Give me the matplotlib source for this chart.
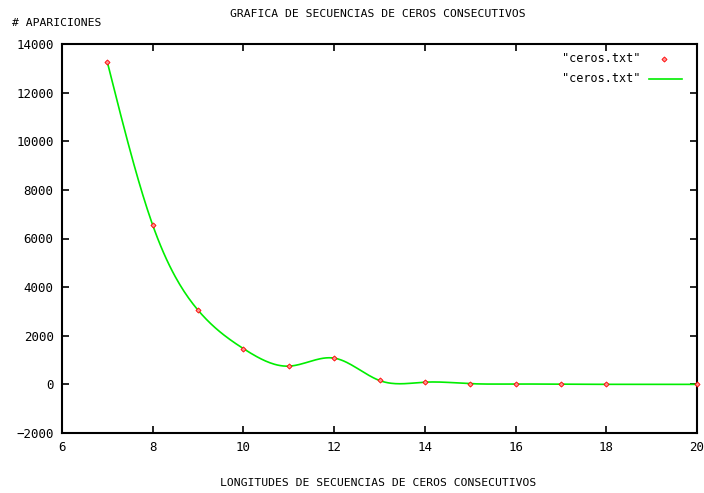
import numpy as np
import matplotlib
matplotlib.use("Agg")
import matplotlib.pyplot as plt

longitudes = [7, 8, 9, 10, 11, 12, 13, 14, 15, 16, 17, 18, 20]
apariciones = [13250, 6550, 3050, 1470, 750, 1080, 160, 90, 30, 15, 5, 2, 0]

def natural_spline(x, y, n=400):
    x = np.asarray(x, float); y = np.asarray(y, float)
    N = len(x); h = np.diff(x)
    A = np.zeros((N, N)); b = np.zeros(N)
    A[0, 0] = 1; A[-1, -1] = 1
    for i in range(1, N - 1):
        A[i, i - 1] = h[i - 1]; A[i, i] = 2 * (h[i - 1] + h[i]); A[i, i + 1] = h[i]
        b[i] = 3 * ((y[i + 1] - y[i]) / h[i] - (y[i] - y[i - 1]) / h[i - 1])
    c = np.linalg.solve(A, b)
    xs = np.linspace(x[0], x[-1], n); ys = np.empty_like(xs)
    for k, xv in enumerate(xs):
        i = min(np.searchsorted(x, xv, side='right') - 1, N - 2)
        dx = xv - x[i]
        bb = (y[i + 1] - y[i]) / h[i] - h[i] * (2 * c[i] + c[i + 1]) / 3
        d = (c[i + 1] - c[i]) / (3 * h[i])
        ys[k] = y[i] + bb * dx + c[i] * dx ** 2 + d * dx ** 3
    return xs, ys

plt.rcParams['font.family'] = ['DejaVu Sans Mono']
fig = plt.figure(figsize=(7.04, 4.93), dpi=100)
ax = fig.add_axes([62 / 704, 1 - 433 / 493, (697 - 62) / 704, (433 - 44) / 493])

xs, ys = natural_spline(longitudes, apariciones)
ax.plot(longitudes, apariciones, linestyle='none', marker='D', markersize=2.6,
        markerfacecolor='#ff9090', markeredgecolor='red', markeredgewidth=0.6, zorder=3, clip_on=False)
ax.plot(xs, ys, color='#00ee00', linewidth=1.2, zorder=2)

ax.set_xlim(6, 20)
ax.set_ylim(-2000, 14000)
ax.set_xticks(range(6, 21, 2))
ax.set_yticks(range(-2000, 14001, 2000))
ax.tick_params(direction='in', top=True, right=True, length=5, width=1.2, labelsize=9, pad=6)
for s in ax.spines.values():
    s.set_linewidth(1.5)

fig.text(378 / 704, 1 - 14 / 493, 'GRAFICA DE SECUENCIAS DE CEROS CONSECUTIVOS', ha='center', va='center', fontsize=8.2)
fig.text(12 / 704, 1 - 23 / 493, '# APARICIONES', ha='left', va='center', fontsize=8.2)
fig.text(378 / 704, 1 - 483 / 493, 'LONGITUDES DE SECUENCIAS DE CEROS CONSECUTIVOS', ha='center', va='center', fontsize=8.2)

# legend
fig.text(640 / 704, 1 - 59 / 493, '"ceros.txt"', ha='right', va='center', fontsize=8.5)
fig.text(640 / 704, 1 - 79 / 493, '"ceros.txt"', ha='right', va='center', fontsize=8.5)
fig.lines.append(plt.Line2D([664 / 704], [1 - 59 / 493], transform=fig.transFigure, marker='D', markersize=2.6,
                            markerfacecolor='#ff9090', markeredgecolor='red', markeredgewidth=0.6, linestyle='none'))
fig.lines.append(plt.Line2D([649 / 704, 682 / 704], [1 - 79 / 493] * 2, transform=fig.transFigure,
                            color='#00ee00', linewidth=1.2))

fig.savefig('out.png', dpi=100)
